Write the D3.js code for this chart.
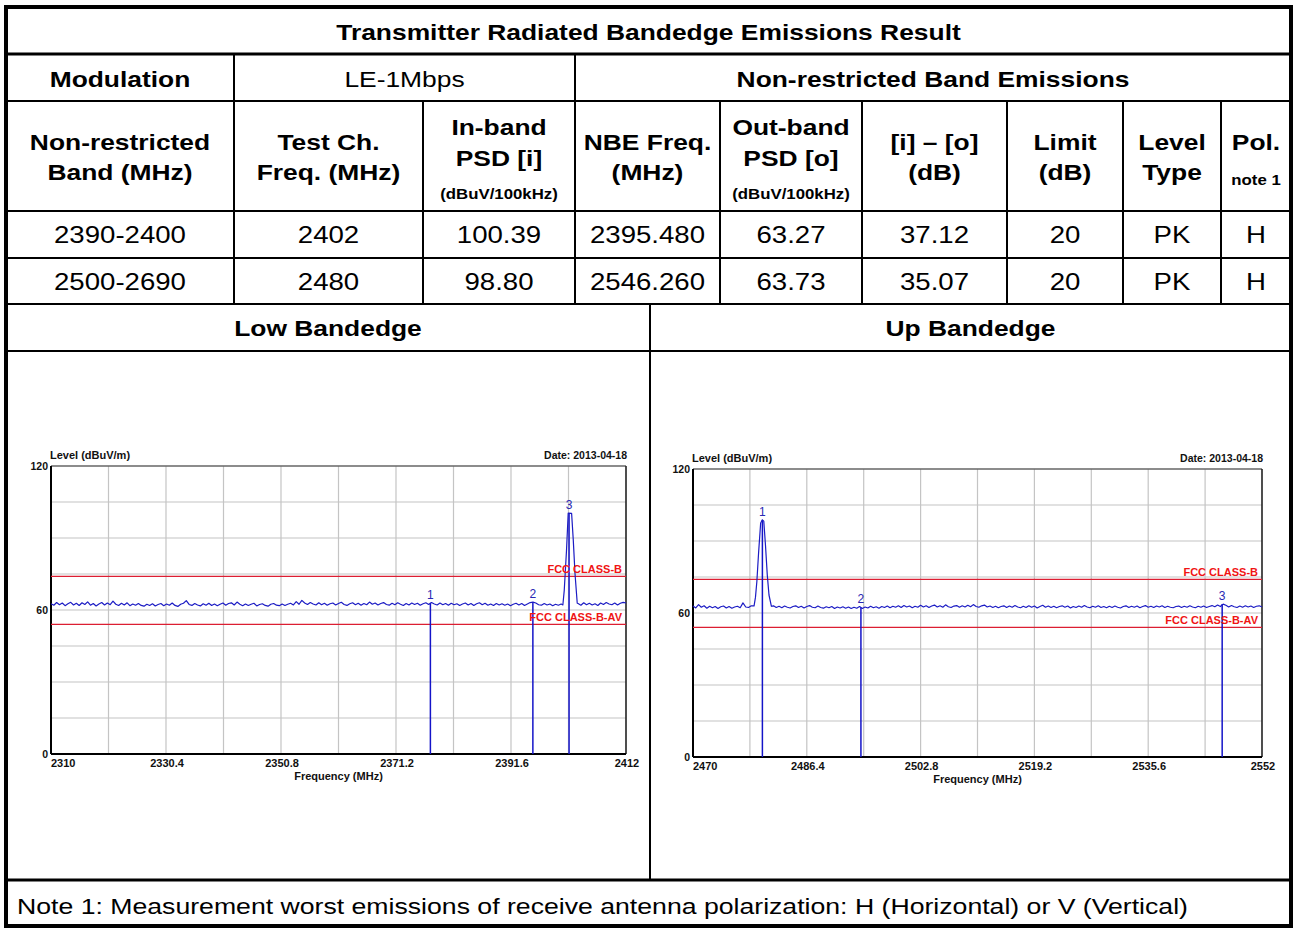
<!DOCTYPE html>
<html>
<head>
<meta charset="utf-8">
<script src="https://cdn.jsdelivr.net/npm/d3@7"></script>
<style>
  html,body{margin:0;padding:0;background:#fff;}
  svg{display:block;}
</style>
</head>
<body>
<svg id="chart" width="1293" height="929"></svg>
<script>
// ---------------- DATA ----------------
const titleText = "Transmitter Radiated Bandedge Emissions Result";
const modulationLabel = "Modulation";
const modulationValue = "LE-1Mbps";
const sectionLabel = "Non-restricted Band Emissions";
const headerLines = [
  ["Non-restricted", "Band (MHz)"],
  ["Test Ch.", "Freq. (MHz)"],
  ["In-band", "PSD [i]"],
  ["NBE Freq.", "(MHz)"],
  ["Out-band", "PSD [o]"],
  ["[i] \u2013 [o]", "(dB)"],
  ["Limit", "(dB)"],
  ["Level", "Type"],
  ["Pol."]
];
const headerSubs = [null, null, "(dBuV/100kHz)", null, "(dBuV/100kHz)", null, null, null, "note 1"];
const bandRange = ["2390-2400", "2500-2690"];
const testFreq = ["2402", "2480"];
const inBandPSD = ["100.39", "98.80"];
const nbeFreq = ["2395.480", "2546.260"];
const outBandPSD = ["63.27", "63.73"];
const diffDB = ["37.12", "35.07"];
const limitDB = ["20", "20"];
const levelType = ["PK", "PK"];
const polarization = ["H", "H"];
const panelTitles = ["Low Bandedge", "Up Bandedge"];
const noteText = "Note 1: Measurement worst emissions of receive antenna polarization: H (Horizontal) or V (Vertical)";

// Plot texts
const levelLabel = "Level (dBuV/m)";
const dateLabel = "Date: 2013-04-18";
const freqLabel = "Frequency (MHz)";
const limitNames = ["FCC CLASS-B", "FCC CLASS-B-AV"];
const limitValues = [74, 54];
const yLabelTicks = [0, 60, 120];

// Low bandedge sweep (2310-2412 MHz)
const lowDomain = [2310, 2412];
const lowTicks = [2310, 2330.4, 2350.8, 2371.2, 2391.6, 2412];
const lowSweepStep = 0.5;
// noise before the carrier: 2310.0 ... 2400.5 MHz
const lowNoiseA = [
 62.6,62.0,63.1,62.2,62.9,61.8,62.6,63.2,62.1,62.8,
 61.9,63.0,62.3,63.4,62.0,62.7,61.7,62.5,63.1,62.1,
 62.9,62.2,63.7,62.4,61.9,62.8,62.1,63.0,61.8,62.5,
 62.0,62.7,61.9,61.6,62.4,61.9,62.6,61.7,62.3,62.7,
 61.8,62.5,62.0,62.9,61.9,61.5,62.4,62.8,63.9,62.3,
 61.9,62.7,62.1,61.7,62.6,62.0,62.8,61.9,62.5,61.8,
 62.4,62.9,62.0,62.7,63.0,62.1,63.3,62.4,61.8,62.5,
 61.9,62.4,62.8,61.7,62.3,62.6,61.9,61.6,62.4,62.7,
 62.0,61.8,62.5,61.9,62.4,62.8,62.1,63.5,62.4,64.0,
 62.9,62.3,63.1,62.5,62.1,63.0,62.2,62.8,62.0,62.6,
 62.9,62.1,62.7,63.2,62.3,61.9,62.6,63.0,62.2,62.8,
 62.0,62.7,62.2,63.3,62.4,62.9,62.1,62.7,63.1,62.3,
 62.0,62.8,62.2,63.0,62.4,61.9,62.7,62.1,62.9,62.3,
 62.8,62.0,62.6,63.0,62.3,63.1,62.5,62.1,62.9,62.2,
 62.7,62.0,62.8,62.2,62.6,61.9,62.5,62.9,62.1,62.7,
 61.9,62.6,63.0,62.2,62.8,62.0,62.5,61.9,62.7,62.1,
 62.6,62.0,62.5,61.8,62.4,62.8,62.1,62.7,61.9,62.5,
 63.1,63.3,62.9,62.2,62.0,62.7,62.1,62.5,61.8,62.4,
 62.0,62.5
];
// carrier peak (freq, level)
const lowPeak = [
 [2400.8,62.1],[2401.05,68.3],[2401.45,85.0],[2401.75,100.39],
 [2402.35,100.3],[2402.65,89.0],[2402.95,75.3],[2403.35,62.8]
];
// noise after the carrier: 2403.5 ... 2412.0 MHz
const lowNoiseB = [
 62.7,62.0,63.0,62.2,62.8,62.1,62.6,61.9,62.9,62.3,
 63.1,62.5,62.2,62.9,62.1,62.8,63.2,62.9
];
const lowMarkers = [
 {n:"1", f:2377.3, v:63.0},
 {n:"2", f:2395.48, v:63.27},
 {n:"3", f:2401.9, v:100.39}
];

// Up bandedge sweep (2470-2552 MHz)
const upDomain = [2470, 2552];
const upTicks = [2470, 2486.4, 2502.8, 2519.2, 2535.6, 2552];
const upSweepStep = 0.4;
// noise before the carrier: 2470.0 ... 2478.4 MHz
const upNoiseA = [
 62.9,62.1,63.5,62.4,63.0,62.0,62.8,62.2,62.7,61.9,
 62.6,62.9,62.1,62.7,62.0,62.5,62.8,62.2,64.2,62.5,
 62.3,63.0
];
const upPeak = [
 [2478.8,63.0],[2479.0,66.5],[2479.2,73.0],[2479.45,85.0],[2479.75,97.5],
 [2480.0,98.8],[2480.2,98.3],[2480.45,88.0],[2480.7,76.0],[2480.95,67.5],[2481.3,62.8]
];
// noise after the carrier: 2481.6 ... 2552.0 MHz
const upNoiseB = [
 63.0,62.3,62.8,62.2,62.9,62.4,62.1,62.7,63.0,62.3,
 62.8,62.1,62.7,63.1,62.4,62.2,62.9,62.3,62.0,62.6,
 62.2,62.7,61.9,62.5,62.1,62.6,62.0,62.5,61.9,62.4,
 62.0,62.7,61.9,62.5,62.1,62.8,62.2,62.6,62.0,62.7,
 62.3,62.9,62.2,62.8,62.4,63.0,62.3,63.1,62.5,62.9,
 62.2,62.8,62.4,63.2,62.5,63.0,62.3,62.9,63.3,62.5,
 63.0,62.4,63.4,62.6,62.3,62.9,63.1,62.4,63.0,62.5,
 63.2,62.6,63.5,62.7,62.4,63.0,63.3,62.5,62.9,62.3,
 62.8,62.2,62.7,63.0,62.3,62.9,62.4,63.1,62.5,62.2,
 62.8,62.3,63.0,62.4,62.9,62.1,62.7,63.2,62.4,62.9,
 62.3,62.8,62.2,62.7,63.0,62.4,62.9,62.1,62.7,62.3,
 62.9,62.4,63.1,62.5,62.2,62.8,62.4,63.0,62.3,62.7,
 62.2,62.8,62.3,62.9,62.4,62.1,62.7,63.0,62.3,62.8,
 62.4,62.9,62.2,62.7,63.1,62.4,62.8,62.3,62.9,62.5,
 63.0,62.3,62.8,62.4,62.2,62.7,62.9,62.3,62.8,62.4,
 63.0,62.5,62.2,62.8,62.4,62.9,62.3,62.7,63.1,62.6,
 63.3,62.7,63.7,63.2,62.5,63.1,62.6,62.3,62.9,62.4,
 63.0,62.5,62.9,62.3,62.8,63.0,62.5
];
const upMarkers = [
 {n:"1", f:2480.0, v:98.8},
 {n:"2", f:2494.2, v:62.3},
 {n:"3", f:2546.26, v:63.73}
];

// ---------------- DRAW ----------------
const svg = d3.select("#chart");
const SX = 1.2;                 // horizontal stretch of the table lettering
const FONT = "Liberation Sans, Arial, Helvetica, sans-serif";

function ttext(x, y, s, size, bold, anchor) {
  svg.append("text")
    .attr("transform", `translate(${x},${y}) scale(${SX},1)`)
    .attr("text-anchor", anchor || "middle")
    .attr("font-family", FONT)
    .attr("font-size", size)
    .attr("font-weight", bold ? "bold" : "normal")
    .attr("fill", "#000")
    .text(s);
}
function hline(x1, x2, y, w) {
  svg.append("line").attr("x1", x1).attr("x2", x2).attr("y1", y).attr("y2", y)
    .attr("stroke", "#000").attr("stroke-width", w || 2);
}
function vline(x, y1, y2, w) {
  svg.append("line").attr("x1", x).attr("x2", x).attr("y1", y1).attr("y2", y2)
    .attr("stroke", "#000").attr("stroke-width", w || 2);
}

// table geometry
const L = 6, R = 1291, T = 7, B = 926;
const rowY = [T, 54, 101, 211, 258, 304, 351, 880, B];
const colX = [L, 234, 423, 575, 720, 862, 1007, 1123, 1221, R];
const midX = 650;

hline(L, R, rowY[1], 3);
hline(L, R, rowY[2], 2);
hline(L, R, rowY[3], 2);
hline(L, R, rowY[4], 2);
hline(L, R, rowY[5], 2);
hline(L, R, rowY[6], 2);
hline(L, R, rowY[7], 3);
vline(colX[1], rowY[1], rowY[5]);
vline(colX[3], rowY[1], rowY[5]);
[2, 4, 5, 6, 7, 8].forEach(i => vline(colX[i], rowY[2], rowY[5]));
vline(midX, rowY[5], rowY[7]);

ttext((L + R) / 2, 40, titleText, 22, true);
ttext((colX[0] + colX[1]) / 2, 87, modulationLabel, 22, true);
ttext((colX[1] + colX[3]) / 2, 87, modulationValue, 22, false);
ttext((colX[3] + R) / 2, 87, sectionLabel, 22, true);

headerLines.forEach((lines, i) => {
  const cx = (colX[i] + colX[i + 1]) / 2;
  const hasSub = headerSubs[i] && i !== 8;
  const base = hasSub ? [135, 166] : [150, 180];
  lines.forEach((s, k) => ttext(cx, base[k], s, 22, true));
  if (headerSubs[i]) {
    ttext(cx, i === 8 ? 185 : 199, headerSubs[i], 14, true);
  }
});

const dataCols = [bandRange, testFreq, inBandPSD, nbeFreq, outBandPSD, diffDB, limitDB, levelType, polarization];
[243, 290].forEach((by, r) => {
  dataCols.forEach((col, i) => {
    ttext((colX[i] + colX[i + 1]) / 2, by, col[r], 23, false);
  });
});

ttext((L + midX) / 2, 336, panelTitles[0], 22, true);
ttext((midX + R) / 2, 336, panelTitles[1], 22, true);

ttext(17, 914, noteText, 22.2, false, "start");

svg.append("rect").attr("x", L).attr("y", T).attr("width", R - L).attr("height", B - T)
  .attr("fill", "none").attr("stroke", "#000").attr("stroke-width", 4);

// ---------------- spectrum plots ----------------
function buildTrace(domainStart, step, noiseA, peak, noiseB) {
  const pts = [];
  noiseA.forEach((v, i) => pts.push([domainStart + i * step, v]));
  peak.forEach(p => pts.push(p));
  const lastA = domainStart + (noiseA.length - 1) * step;
  const startB = lastA + Math.ceil((peak[peak.length - 1][0] - lastA) / step) * step;
  noiseB.forEach((v, i) => pts.push([startB + i * step, v]));
  return pts.sort((a, b) => a[0] - b[0]);
}

function drawPlot(cfg) {
  const g = svg.append("g");
  const x = d3.scaleLinear().domain(cfg.domain).range([cfg.x0, cfg.x1]);
  const y = d3.scaleLinear().domain([0, 120]).range([cfg.yB, cfg.yT]);
  const sFont = "Liberation Sans, Arial, sans-serif";

  const d0 = cfg.domain[0], d1 = cfg.domain[1];
  const vGrid = d3.range(1, 10).map(i => d0 + i * (d1 - d0) / 10);
  const hGrid = d3.range(15, 120, 15);
  g.selectAll(".vg").data(vGrid).join("line")
    .attr("x1", d => x(d)).attr("x2", d => x(d)).attr("y1", y(120)).attr("y2", y(0))
    .attr("stroke", "#c4c4c4").attr("stroke-width", 1.2);
  g.selectAll(".hg").data(hGrid).join("line")
    .attr("x1", x(d0)).attr("x2", x(d1)).attr("y1", d => y(d)).attr("y2", d => y(d))
    .attr("stroke", "#c4c4c4").attr("stroke-width", 1.2);

  g.append("line").attr("x1", x(d0)).attr("x2", x(d1)).attr("y1", y(120)).attr("y2", y(120))
    .attr("stroke", "#666").attr("stroke-width", 1.3);
  g.append("line").attr("x1", x(d1)).attr("x2", x(d1)).attr("y1", y(120)).attr("y2", y(0))
    .attr("stroke", "#222").attr("stroke-width", 1.6);
  g.append("line").attr("x1", x(d0)).attr("x2", x(d0)).attr("y1", y(120)).attr("y2", y(0))
    .attr("stroke", "#000").attr("stroke-width", 2);
  g.append("line").attr("x1", x(d0)).attr("x2", x(d1)).attr("y1", y(0)).attr("y2", y(0))
    .attr("stroke", "#000").attr("stroke-width", 2);

  limitValues.forEach(lv => {
    g.append("line").attr("x1", x(d0)).attr("x2", x(d1)).attr("y1", y(lv)).attr("y2", y(lv))
      .attr("stroke", "#dc1e32").attr("stroke-width", 1.4);
  });

  cfg.markers.forEach(m => {
    g.append("line").attr("x1", x(m.f)).attr("x2", x(m.f)).attr("y1", y(m.v)).attr("y2", y(0))
      .attr("stroke", "#1414c8").attr("stroke-width", 1.5);
  });

  const line = d3.line().x(d => x(d[0])).y(d => y(d[1]));
  g.append("path").datum(cfg.trace).attr("d", line)
    .attr("fill", "none").attr("stroke", "#1c1cc4").attr("stroke-width", 1.2)
    .attr("stroke-linejoin", "round");

  limitValues.forEach((lv, i) => {
    g.append("text").attr("x", x(d1) - 4).attr("y", y(lv) - 3)
      .attr("text-anchor", "end").attr("font-family", sFont).attr("font-weight", "bold")
      .attr("font-size", 11).attr("fill", "#f01414").text(limitNames[i]);
  });

  cfg.markers.forEach(m => {
    g.append("text").attr("x", x(m.f)).attr("y", y(m.v) - 4)
      .attr("text-anchor", "middle").attr("font-family", sFont)
      .attr("font-size", 12).attr("fill", "#2828b4").text(m.n);
  });

  yLabelTicks.forEach(v => {
    g.append("text").attr("x", x(d0) - 3).attr("y", y(v) + 4)
      .attr("text-anchor", "end").attr("font-family", sFont).attr("font-weight", "bold")
      .attr("font-size", 10.5).attr("fill", "#111").text(v);
  });

  cfg.ticks.forEach((t, i) => {
    g.append("text").attr("x", i === 0 ? x(t) : x(t) + 1).attr("y", y(0) + 13)
      .attr("text-anchor", i === 0 ? "start" : "middle")
      .attr("font-family", sFont).attr("font-weight", "bold")
      .attr("font-size", 11).attr("fill", "#111").text(t);
  });

  g.append("text").attr("x", (x(d0) + x(d1)) / 2).attr("y", y(0) + 26)
    .attr("text-anchor", "middle").attr("font-family", sFont).attr("font-weight", "bold")
    .attr("font-size", 11).attr("fill", "#111").text(freqLabel);

  g.append("text").attr("x", x(d0) - 1).attr("y", y(120) - 7)
    .attr("font-family", sFont).attr("font-weight", "bold")
    .attr("font-size", 11).attr("fill", "#111").text(levelLabel);
  g.append("text").attr("x", x(d1) + 1).attr("y", y(120) - 7)
    .attr("text-anchor", "end").attr("font-family", sFont).attr("font-weight", "bold")
    .attr("font-size", 10.5).attr("fill", "#111").text(dateLabel);
}

drawPlot({
  domain: lowDomain, ticks: lowTicks, markers: lowMarkers,
  trace: buildTrace(lowDomain[0], lowSweepStep, lowNoiseA, lowPeak, lowNoiseB),
  x0: 51, x1: 626, yT: 466, yB: 754
});
drawPlot({
  domain: upDomain, ticks: upTicks, markers: upMarkers,
  trace: buildTrace(upDomain[0], upSweepStep, upNoiseA, upPeak, upNoiseB),
  x0: 693, x1: 1262, yT: 469, yB: 757
});
</script>
</body>
</html>
